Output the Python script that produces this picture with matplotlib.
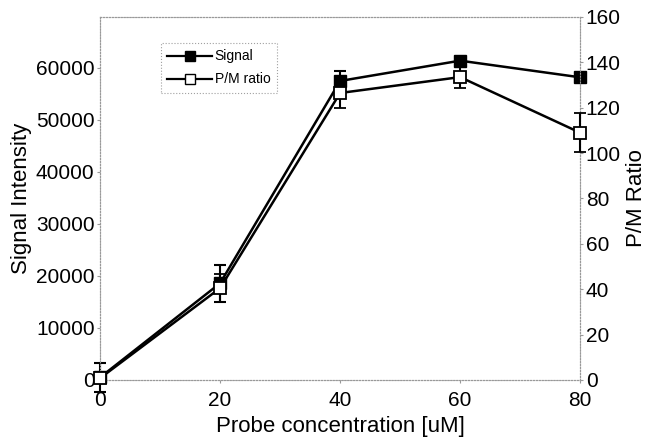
import matplotlib
matplotlib.use("Agg")
import matplotlib.pyplot as plt
from matplotlib.lines import Line2D

plt.rcParams["font.family"] = ["Liberation Sans", "DejaVu Sans"]

conc = [0, 20, 40, 60, 80]
signal = [500, 18600, 57500, 61400, 58200]
signal_err = [2800, 3600, 2000, 800, 600]
pm_ratio = [0.8, 40.5, 126.5, 133.5, 109.0]
pm_err = [1.0, 6.0, 6.5, 5.0, 8.5]

fig = plt.figure(figsize=(6.46, 4.47), dpi=100)
ax = fig.add_axes([0.155, 0.150, 0.743, 0.812])
ax2 = ax.twinx()

ax.errorbar(conc, signal, yerr=signal_err, color="black", lw=1.8,
            marker="s", ms=9, mfc="black", mec="black",
            capsize=4, elinewidth=1.5, capthick=1.5, clip_on=False, zorder=3)
ax2.errorbar(conc, pm_ratio, yerr=pm_err, color="black", lw=1.8,
             marker="s", ms=9, mfc="white", mec="black", mew=1.3,
             capsize=4, elinewidth=1.5, capthick=1.5, clip_on=False, zorder=3)

ax.set_xlim(0, 80)
ax.set_ylim(0, 69800)
ax2.set_ylim(0, 160)
ax.set_xticks([0, 20, 40, 60, 80])
ax.set_yticks(range(0, 60001, 10000))
ax2.set_yticks(range(0, 161, 20))

for a in (ax, ax2):
    for sp in a.spines.values():
        sp.set_linestyle(":")
        sp.set_color("#999999")
        sp.set_linewidth(0.8)
    a.tick_params(length=2, color="#999999", labelsize=15, pad=2)
ax.tick_params(axis="x", pad=6)

ax.set_xlabel("Probe concentration [uM]", fontsize=16, labelpad=4)
ax.set_ylabel("Signal Intensity", fontsize=16, labelpad=3)
ax2.set_ylabel("P/M Ratio", fontsize=16, labelpad=4)

# legend handles without error bars
h1 = Line2D([], [], color="black", lw=1.6, marker="s", ms=7, mfc="black", mec="black")
h2 = Line2D([], [], color="black", lw=1.6, marker="s", ms=7, mfc="white", mec="black")
leg = ax.legend([h1, h2], ["Signal", "P/M ratio"], loc="upper left",
                bbox_to_anchor=(0.127, 0.928), fontsize=10, frameon=True,
                fancybox=False, handlelength=3.2, handletextpad=0.2,
                borderpad=0.45, labelspacing=0.65, borderaxespad=0)
leg.get_frame().set_linestyle(":")
leg.get_frame().set_edgecolor("#888888")
leg.get_frame().set_linewidth(0.8)

fig.savefig("out.png", dpi=100)
